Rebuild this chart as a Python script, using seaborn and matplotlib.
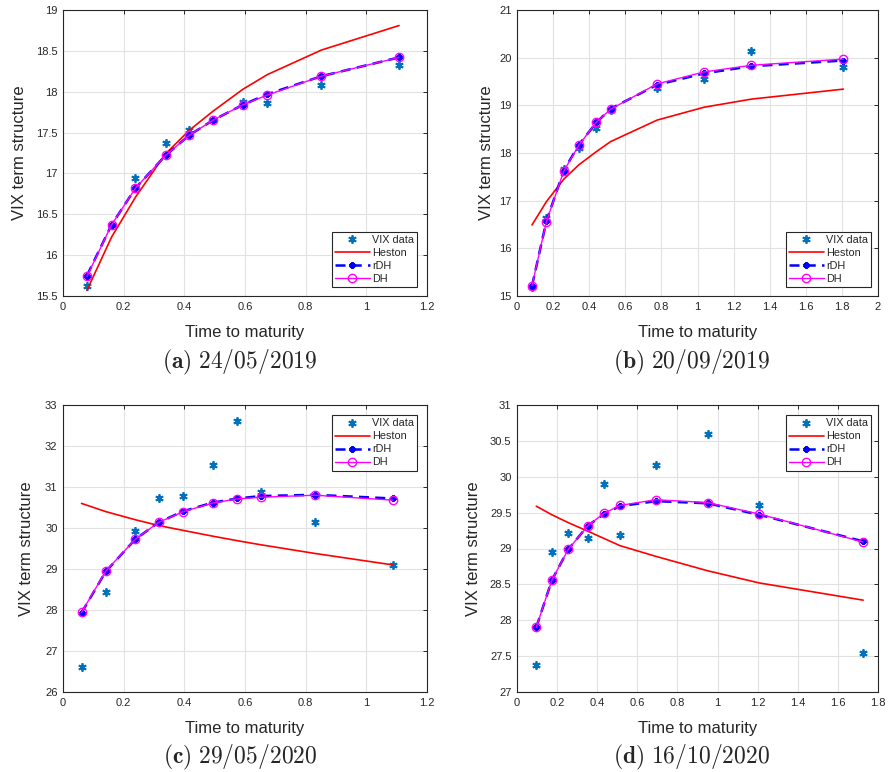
import numpy as np
import pandas as pd
import matplotlib
matplotlib.use("Agg")
import matplotlib.pyplot as plt
import seaborn as sns

# (a) 24/05/2019
t_a = [0.079, 0.160, 0.239, 0.338, 0.417, 0.494, 0.593, 0.674, 0.852, 1.108]
vix_a = [15.62, 16.37, 16.95, 17.37, 17.53, 17.65, 17.88, 17.86, 18.08, 18.33]
heston_a = [15.57, 16.22, 16.71, 17.24, 17.53, 17.76, 18.03, 18.21, 18.51, 18.81]
rdh_a = [15.75, 16.37, 16.82, 17.22, 17.47, 17.65, 17.84, 17.97, 18.19, 18.42]
dh_a = [15.74, 16.37, 16.82, 17.22, 17.47, 17.65, 17.84, 17.96, 18.19, 18.42]

# (b) 20/09/2019
t_b = [0.083, 0.163, 0.259, 0.342, 0.440, 0.519, 0.776, 1.036, 1.298, 1.808]
vix_b = [15.18, 16.63, 17.66, 18.11, 18.53, 18.90, 19.36, 19.55, 20.15, 19.81]
heston_b = [16.49, 16.98, 17.45, 17.75, 18.03, 18.24, 18.69, 18.96, 19.13, 19.34]
rdh_b = [15.21, 16.57, 17.63, 18.17, 18.64, 18.93, 19.43, 19.67, 19.82, 19.94]
dh_b = [15.22, 16.56, 17.62, 18.16, 18.65, 18.92, 19.45, 19.70, 19.84, 19.97]

# (c) 29/05/2020
t_c = [0.061, 0.141, 0.239, 0.316, 0.397, 0.494, 0.575, 0.653, 0.830, 1.087]
vix_c = [26.61, 28.44, 29.93, 30.72, 30.78, 31.54, 32.62, 30.87, 30.15, 29.10]
heston_c = [30.60, 30.40, 30.20, 30.06, 29.94, 29.80, 29.69, 29.59, 29.38, 29.10]
rdh_c = [27.93, 28.94, 29.73, 30.14, 30.41, 30.62, 30.72, 30.78, 30.81, 30.72]
dh_c = [27.94, 28.95, 29.73, 30.14, 30.40, 30.61, 30.71, 30.75, 30.80, 30.68]

# (d) 16/10/2020
t_d = [0.096, 0.174, 0.256, 0.354, 0.434, 0.513, 0.693, 0.950, 1.208, 1.726]
vix_d = [27.37, 28.95, 29.21, 29.14, 29.90, 29.19, 30.16, 30.60, 29.60, 27.54]
heston_d = [29.59, 29.47, 29.36, 29.24, 29.14, 29.04, 28.89, 28.69, 28.52, 28.28]
rdh_d = [27.90, 28.56, 28.99, 29.32, 29.48, 29.59, 29.66, 29.63, 29.47, 29.10]
dh_d = [27.90, 28.56, 28.99, 29.32, 29.49, 29.60, 29.68, 29.64, 29.48, 29.09]

panels = [
    ("a", "24/05/2019", t_a, vix_a, heston_a, rdh_a, dh_a),
    ("b", "20/09/2019", t_b, vix_b, heston_b, rdh_b, dh_b),
    ("c", "29/05/2020", t_c, vix_c, heston_c, rdh_c, dh_c),
    ("d", "16/10/2020", t_d, vix_d, heston_d, rdh_d, dh_d),
]

# axis settings per panel
x_lims = [(1.2, 0.2), (2.0, 0.2), (1.2, 0.2), (1.8, 0.2)]
y_lims = [(15.5, 19, 0.5), (15, 21, 1), (26, 33, 1), (27, 31, 0.5)]
leg_locs = [("lower right", (0.973, 0.031)), ("lower right", (0.981, 0.031)),
            ("upper right", (0.973, 0.965)), ("upper right", (0.981, 0.965))]
ylabel_x = [-0.099, -0.064, -0.080, -0.100]

sns.set_style("white")
plt.rcParams["font.family"] = ["Liberation Sans", "DejaVu Sans"]
plt.rcParams["mathtext.fontset"] = "cm"

fig = plt.figure(figsize=(8.88, 7.72), dpi=100)
rects = [
    (63 / 888, 1 - 296 / 772, 364 / 888, 286 / 772),
    (517 / 888, 1 - 296 / 772, 361 / 888, 286 / 772),
    (63 / 888, 1 - 692 / 772, 364 / 888, 287 / 772),
    (517 / 888, 1 - 692 / 772, 361 / 888, 287 / 772),
]
caption_pos = [(240, 362), (692, 362), (240, 757), (692, 757)]

vix_col = "#0072BD"
ast = (6, 2, 0)


def fmt(v):
    return f"{v:g}"


for i, (tag, date, t, vix, hes, rdh, dh) in enumerate(panels):
    ax = fig.add_axes(rects[i])
    df = pd.DataFrame({"t": t, "vix": vix, "heston": hes, "rdh": rdh, "dh": dh})

    sns.lineplot(data=df, x="t", y="vix", ax=ax, sort=False, errorbar=None,
                 linestyle="none", marker=ast, markersize=6, color=vix_col,
                 markeredgecolor=vix_col, markeredgewidth=1.3, label="VIX data")
    sns.lineplot(data=df, x="t", y="heston", ax=ax, sort=False, errorbar=None,
                 color="red", linewidth=1.2, label="Heston")
    sns.lineplot(data=df, x="t", y="rdh", ax=ax, sort=False, errorbar=None,
                 color="blue", linewidth=1.8, linestyle=(0, (4, 2.5)),
                 marker=ast, markersize=4.5, markeredgecolor="blue",
                 markeredgewidth=1.8, label="rDH")
    sns.lineplot(data=df, x="t", y="dh", ax=ax, sort=False, errorbar=None,
                 color="magenta", linewidth=1.0, marker="o", markersize=6,
                 markerfacecolor="none", markeredgecolor="magenta",
                 markeredgewidth=1.0, label="DH")

    xmax, xstep = x_lims[i]
    ymin, ymax, ystep = y_lims[i]
    xt = np.round(np.arange(0, xmax + 1e-9, xstep), 2)
    yt = np.round(np.arange(ymin, ymax + 1e-9, ystep), 2)
    ax.set_xlim(0, xmax)
    ax.set_ylim(ymin, ymax)
    ax.set_xticks(xt)
    ax.set_xticklabels([fmt(v) for v in xt])
    ax.set_yticks(yt)
    ax.set_yticklabels([fmt(v) for v in yt])
    ax.grid(True, color="#e2e2e2", linewidth=0.8)
    ax.set_axisbelow(True)
    for s in ax.spines.values():
        s.set_color("#262626")
        s.set_linewidth(0.8)
    ax.tick_params(direction="in", top=True, right=True, length=3,
                   width=0.7, color="#262626", labelsize=8, pad=4,
                   labelcolor="#262626")
    ax.set_xlabel("Time to maturity", fontsize=12, labelpad=10)
    ax.set_ylabel("VIX term structure", fontsize=12)
    ax.yaxis.set_label_coords(ylabel_x[i], 0.5)

    loc, anchor = leg_locs[i]
    leg = ax.legend(loc=loc, bbox_to_anchor=anchor, fontsize=7.8,
                    fancybox=False, framealpha=1, edgecolor="#262626",
                    handlelength=3.2, handletextpad=0.2, borderpad=0.3,
                    labelspacing=0.28, borderaxespad=0)
    leg.get_frame().set_linewidth(0.8)

    cx, cy = caption_pos[i]
    fig.text(cx / 888, 1 - cy / 772,
             r"$\mathbf{(" + tag + r")}$ $" + date + "$",
             ha="center", va="center", fontsize=17)

plt.savefig("out.png", dpi=100)
